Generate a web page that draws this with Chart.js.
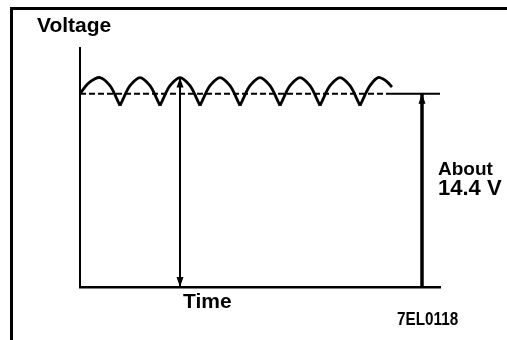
<!DOCTYPE html>
<html>
<head>
<meta charset="utf-8">
<script src="https://cdn.jsdelivr.net/npm/chart.js@4/dist/chart.umd.min.js"></script>
<style>
  html, body { margin: 0; padding: 0; background: #fff; }
  canvas { display: block; }
</style>
</head>
<body>
<canvas id="ripple" width="507" height="340"></canvas>
<script>
// Charging voltage ripple: time in ripple periods, voltage in volts.
// Each hump is drawn on its own so the joins between humps stay pointed.
const hump1 = [[0, 14.4], [0.22, 15.2], [0.5, 15.6], [0.75, 15.0], [0.9, 14.15], [1, 13.5]];
const hump2 = [[1, 13.5], [1.1, 14.15], [1.25, 15.0], [1.5, 15.6], [1.75, 15.0], [1.9, 14.15], [2, 13.5]];
const hump3 = [[2, 13.5], [2.1, 14.15], [2.25, 15.0], [2.5, 15.6], [2.75, 15.0], [2.9, 14.15], [3, 13.5]];
const hump4 = [[3, 13.5], [3.1, 14.15], [3.25, 15.0], [3.5, 15.6], [3.75, 15.0], [3.9, 14.15], [4, 13.5]];
const hump5 = [[4, 13.5], [4.1, 14.15], [4.25, 15.0], [4.5, 15.6], [4.75, 15.0], [4.9, 14.15], [5, 13.5]];
const hump6 = [[5, 13.5], [5.1, 14.15], [5.25, 15.0], [5.5, 15.6], [5.75, 15.0], [5.9, 14.15], [6, 13.5]];
const hump7 = [[6, 13.5], [6.1, 14.15], [6.25, 15.0], [6.5, 15.6], [6.75, 15.0], [6.9, 14.15], [7, 13.5]];
const hump8 = [[7, 13.5], [7.1, 14.15], [7.25, 15.0], [7.45, 15.6], [7.65, 15.35], [7.8, 14.9]];

// average (regulated) level, dashed over the ripple then solid
const levelVolts = 14.4;
const levelDashed = [[0, levelVolts], [7.7, levelVolts]];
const levelSolid = [[7.7, levelVolts], [9, levelVolts]];

// arrows: peak-to-ground and ground-to-level
const peakArrow = [[2.5, 15.6], [2.5, 0]];
const levelArrow = [[8.55, 0], [8.55, levelVolts]];

const timeRange = [0, 9];
const voltRange = [0, 17.8];

const INK = '#000';
const FONT = '"Liberation Sans", Arial, sans-serif';

const toXY = pairs => pairs.map(p => ({ x: p[0], y: p[1] }));

const rippleSets = [hump1, hump2, hump3, hump4, hump5, hump6, hump7, hump8].map(h => ({
    data: toXY(h),
    borderColor: INK,
    borderWidth: 2.8,
    tension: 0.3,
    pointRadius: 0
}));

// draws filled arrowheads on the ends listed in dataset.arrowHeads
const arrowHeadPlugin = {
    id: 'arrowHeads',
    afterDatasetsDraw(chart) {
        const ctx = chart.ctx;
        chart.data.datasets.forEach((ds, i) => {
            if (!ds.arrowHeads) return;
            const pts = chart.getDatasetMeta(i).data;
            const heads = [];
            if (ds.arrowHeads.includes('start')) heads.push([pts[0], pts[1]]);
            if (ds.arrowHeads.includes('end')) heads.push([pts[pts.length - 1], pts[pts.length - 2]]);
            heads.forEach(([tip, from]) => {
                const dx = tip.x - from.x, dy = tip.y - from.y;
                const len = Math.hypot(dx, dy) || 1;
                const ux = dx / len, uy = dy / len;
                const L = ds.headLength, W = ds.headWidth / 2;
                const bx = tip.x - ux * L, by = tip.y - uy * L;
                ctx.save();
                ctx.fillStyle = INK;
                ctx.beginPath();
                ctx.moveTo(tip.x, tip.y);
                ctx.lineTo(bx - uy * W, by + ux * W);
                ctx.lineTo(bx + uy * W, by - ux * W);
                ctx.closePath();
                ctx.fill();
                ctx.restore();
            });
        });
    }
};

// frame lines and the labels
const labelPlugin = {
    id: 'labels',
    afterDraw(chart) {
        const ctx = chart.ctx;
        ctx.save();
        ctx.fillStyle = INK;
        ctx.fillRect(10, 7, 497, 3);
        ctx.fillRect(10, 7, 3, 333);

        ctx.textBaseline = 'alphabetic';
        ctx.textAlign = 'left';
        ctx.font = 'bold 21px ' + FONT;
        ctx.fillText('Voltage', 37, 32);
        ctx.fillText('Time', 183, 308);
        ctx.font = 'bold 19px ' + FONT;
        ctx.fillText('About', 438, 175);
        ctx.font = 'bold 22px ' + FONT;
        ctx.fillText('14.4 V', 438, 195);

        ctx.font = 'bold 18px ' + FONT;
        ctx.translate(397, 325);
        ctx.scale(0.85, 1);
        ctx.fillText('7EL0118', 0, 0);
        ctx.restore();
    }
};

new Chart(document.getElementById('ripple'), {
    type: 'line',
    data: {
        datasets: [
            ...rippleSets,
            {
                data: toXY(levelDashed),
                borderColor: INK,
                borderWidth: 2,
                borderDash: [6, 3],
                pointRadius: 0
            },
            {
                data: toXY(levelSolid),
                borderColor: INK,
                borderWidth: 2,
                pointRadius: 0
            },
            {
                data: toXY(peakArrow),
                borderColor: INK,
                borderWidth: 2,
                pointRadius: 0,
                arrowHeads: ['start', 'end'],
                headLength: 10,
                headWidth: 7
            },
            {
                data: toXY(levelArrow),
                borderColor: INK,
                borderWidth: 3.5,
                pointRadius: 0,
                arrowHeads: ['end'],
                headLength: 10,
                headWidth: 7
            }
        ]
    },
    options: {
        responsive: false,
        animation: false,
        devicePixelRatio: 1,
        layout: { padding: { left: 80, right: 67, top: 48, bottom: 53 } },
        plugins: {
            legend: { display: false },
            tooltip: { enabled: false }
        },
        scales: {
            x: {
                type: 'linear',
                min: timeRange[0],
                max: timeRange[1],
                grid: { display: false, drawTicks: false },
                ticks: { display: false },
                border: { display: true, color: INK, width: 2.5 }
            },
            y: {
                type: 'linear',
                min: voltRange[0],
                max: voltRange[1],
                grid: { display: false, drawTicks: false },
                ticks: { display: false },
                border: { display: true, color: INK, width: 2 }
            }
        }
    },
    plugins: [arrowHeadPlugin, labelPlugin]
});
</script>
</body>
</html>
